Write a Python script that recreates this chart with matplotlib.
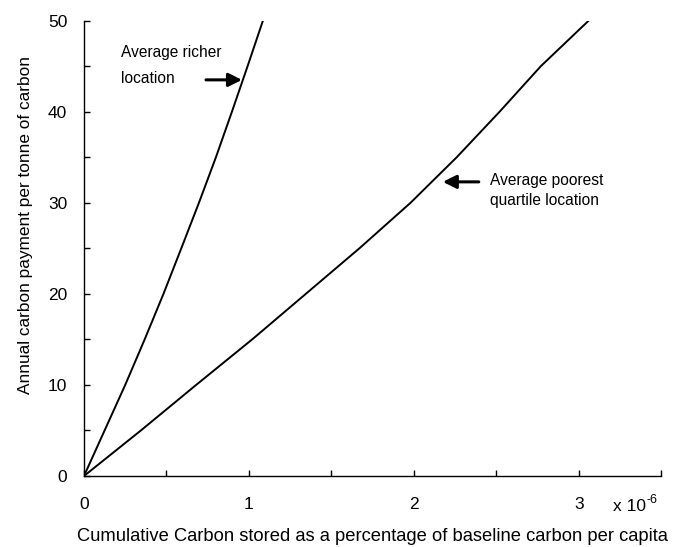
import matplotlib.pyplot as plt

plt.rcParams['font.family'] = ['Liberation Sans', 'DejaVu Sans']

# values (x in units of 1e-6)
pay = [0, 5, 10, 15, 20, 25, 30, 35, 40, 45, 50]
richer_x = [0, 0.125, 0.25, 0.368, 0.482, 0.59, 0.697, 0.80, 0.897, 0.992, 1.085]
poor_x = [0, 0.345, 0.68, 1.02, 1.345, 1.67, 1.98, 2.26, 2.52, 2.77, 3.06]

fig = plt.figure(figsize=(6.74, 5.47), dpi=100)
ax = fig.add_axes([0.1246, 0.1298, 0.8564, 0.8324])

ax.plot(richer_x, pay, color='black', lw=1.4)
ax.plot(poor_x, pay, color='black', lw=1.4)

ax.set_xlim(0, 3.5)
ax.set_ylim(0, 50)
ax.set_xticks([0, 0.5, 1, 1.5, 2, 2.5, 3, 3.5])
ax.set_xticklabels(['0', '', '1', '', '2', '', '3', ''])
ax.set_yticks([0, 5, 10, 15, 20, 25, 30, 35, 40, 45, 50])
ax.set_yticklabels(['0', '', '10', '', '20', '', '30', '', '40', '', '50'])
ax.tick_params(direction='in', length=4, width=1, labelsize=12.5)
ax.tick_params(axis='x', pad=15)
ax.tick_params(axis='y', pad=12)

for s in ['top', 'right']:
    ax.spines[s].set_visible(False)
for s in ['left', 'bottom']:
    ax.spines[s].set_linewidth(1)

ax.set_xlabel('Cumulative Carbon stored as a percentage of baseline carbon per capita', fontsize=13.2)
ax.set_ylabel('Annual carbon payment per tonne of carbon', fontsize=12.4)
ax.xaxis.set_label_coords(0.499, -0.132)
ax.xaxis.label.set_va('center')
ax.yaxis.set_label_coords(-0.102, 0.552)
ax.yaxis.label.set_va('center')

# exponent note, plain hyphen like the original
ax.text(0.917, -0.066, 'x 10', transform=ax.transAxes, fontsize=12.5,
        ha='left', va='center')
ax.text(0.974, -0.052, '-6', transform=ax.transAxes, fontsize=9,
        ha='left', va='center')

# annotations
ax.text(0.224, 46.5, 'Average richer', fontsize=11.2, ha='left', va='center')
ax.text(0.224, 43.6, 'location', fontsize=11.2, ha='left', va='center')
ax.annotate('', xy=(0.958, 43.5), xytext=(0.74, 43.5),
            arrowprops=dict(arrowstyle='-|>,head_length=0.8,head_width=0.4',
                            color='black', lw=2.2, shrinkA=0, shrinkB=0))

ax.text(2.46, 32.4, 'Average poorest', fontsize=11.2, ha='left', va='center')
ax.text(2.46, 30.3, 'quartile location', fontsize=11.2, ha='left', va='center')
ax.annotate('', xy=(2.176, 32.3), xytext=(2.394, 32.3),
            arrowprops=dict(arrowstyle='-|>,head_length=0.8,head_width=0.4',
                            color='black', lw=2.2, shrinkA=0, shrinkB=0))

fig.savefig('out.png', dpi=100)
